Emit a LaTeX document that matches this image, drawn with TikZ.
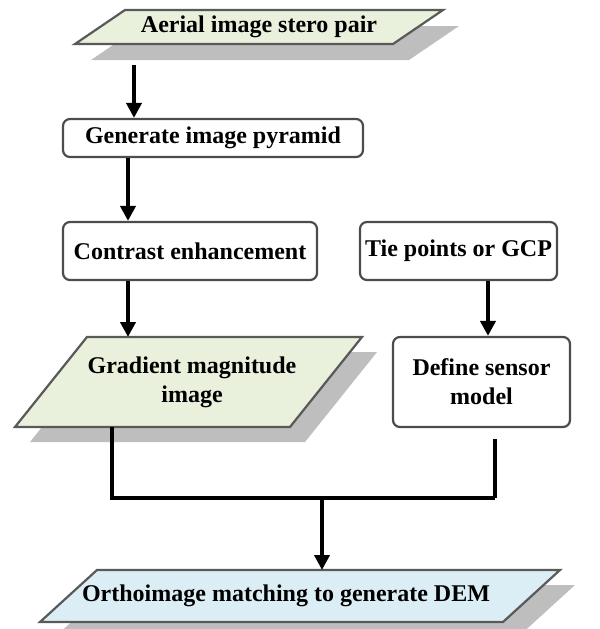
\documentclass[tikz,border=0pt]{standalone}
\usepackage{fontspec}
\setmainfont{Liberation Serif}
\usetikzlibrary{arrows.meta}
\definecolor{iogreen}{RGB}{233,240,220}
\definecolor{ioblue}{RGB}{220,238,245}
\definecolor{shadowgray}{RGB}{190,190,190}
\begin{document}
\begin{tikzpicture}[x=0.5pt,y=-0.5pt]
  \tikzset{ box/.style={draw=black!70,line width=1.1pt,rounded corners=3.5pt,fill=white,
      font=\fontsize{12}{14.5}\selectfont\bfseries,align=center,inner sep=0pt},
    io/.style={draw=black!65,line width=1.1pt},
    iotext/.style={font=\fontsize{12}{14.5}\selectfont\bfseries,align=center,inner sep=0pt},
    arr/.style={line width=2pt,-{Triangle[width=7.5pt,length=7.5pt]}},
    link/.style={line width=2pt},
  }
  \useasboundingbox (0,0) rectangle (600,629);

  % data shapes with their shadows
  \fill[shadowgray] (91,60) -- (141,26) -- (459,26) -- (409,60) -- cycle;
  \draw[io,fill=iogreen] (75,44) -- (125,10) -- (443,10) -- (393,44) -- cycle;
  \node[iotext] (aerial) at (259,27) {Aerial image stero pair};

  \fill[shadowgray] (30,442) -- (102,352) -- (377,352) -- (305,442) -- cycle;
  \draw[io,fill=iogreen] (15,427) -- (87,337) -- (362,337) -- (290,427) -- cycle;
  \node[iotext] (grad) at (192,382) {Gradient magnitude\\image};

  \fill[shadowgray] (55,637) -- (112,585) -- (575,585) -- (518,637) -- cycle;
  \draw[io,fill=ioblue] (40,622) -- (97,570) -- (560,570) -- (503,622) -- cycle;
  \node[iotext] (ortho) at (286,596) {Orthoimage matching to generate DEM};

  % process boxes
  \node[box,minimum width=150pt,minimum height=19pt] (pyr) at (213,138) {Generate image pyramid};
  \node[box,minimum width=127pt,minimum height=29pt] (con) at (190,251) {Contrast enhancement};
  \node[box,minimum width=98.5pt,minimum height=29pt] (tie) at (458.5,251) {Tie points or GCP};
  \node[box,minimum width=88.5pt,minimum height=45pt] (def) at (481.5,382) {Define sensor\\model};

  % the arrows between the steps
  \coordinate (a1) at (134,65);
  \coordinate (gradtop) at (128,337);
  \coordinate (orthotop) at (322,570);
  \draw[arr] (a1) -- (a1 |- pyr.north);
  \draw[arr] (gradtop |- pyr.south) -- (gradtop |- con.north);
  \draw[arr] (gradtop |- con.south) -- (gradtop);
  \draw[arr] (488,0 |- tie.south) -- (488,0 |- def.north);

  % joining both branches
  \coordinate (jl) at (112,498);
  \coordinate (jr) at (495,498);
  \coordinate (jm) at (322,498);
  \draw[link] (112,427) -- (jl) -- (jr);
  \draw[link,shorten <=5.5pt] (jr |- def.south) -- (jr);
  \draw[arr] (jm) -- (orthotop);
\end{tikzpicture}
\end{document}
